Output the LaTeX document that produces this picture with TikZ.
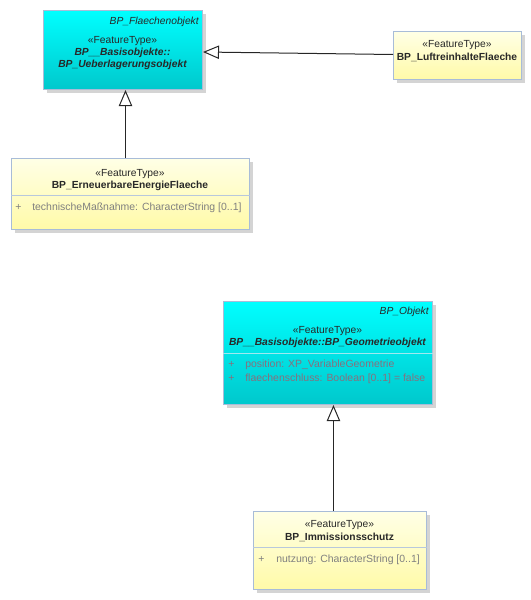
\documentclass[tikz,border=0pt]{standalone}
\usepackage{fontspec}
\setmainfont{Liberation Sans}
\usetikzlibrary{arrows.meta,shadows,calc}
\definecolor{bordc}{RGB}{168,188,216}
\definecolor{cyantop}{RGB}{0,255,255}
\definecolor{cyanbot}{RGB}{0,200,204}
\definecolor{yeltop}{RGB}{255,255,230}
\definecolor{yelbot}{RGB}{255,250,168}
\definecolor{cdiv}{RGB}{160,232,240}
\definecolor{ydiv}{RGB}{184,200,220}
\definecolor{txtc}{RGB}{40,40,40}
\definecolor{attc}{RGB}{128,128,128}
\definecolor{cattc}{RGB}{135,112,125}
\definecolor{shadc}{RGB}{212,212,212}
\tikzset{
  ubox/.style={draw=bordc, line width=0.75pt, inner sep=0pt, anchor=north west,
    drop shadow={shadow xshift=2.25pt, shadow yshift=-2.25pt, fill=shadc, opacity=1}},
  cbox/.style={ubox, top color=cyantop, bottom color=cyanbot},
  ybox/.style={ubox, top color=yeltop, bottom color=yelbot},
  txt/.style={inner sep=0pt, text=txtc, font=\fontsize{7.7pt}{9pt}\selectfont},
  stereo/.style={txt, anchor=base},
  cname/.style={txt, anchor=base, font=\fontsize{7.7pt}{9pt}\selectfont\bfseries},
  aname/.style={txt, anchor=base, font=\fontsize{7.7pt}{9pt}\selectfont\bfseries\itshape},
  parent/.style={txt, anchor=base east, font=\fontsize{7.7pt}{9pt}\selectfont\itshape},
  attr/.style={txt, anchor=base west, text=attc, font=\fontsize{7.85pt}{9pt}\selectfont},
  cattr/.style={attr, text=cattc},
  ydivline/.style={draw=ydiv, line width=0.75pt},
  cdivline/.style={draw=cdiv, line width=0.75pt},
  gen/.style={draw=black!85, line width=0.75pt,
    -{Triangle[open, length=12pt, width=10pt, fill=white]}}
}
\begin{document}
\begin{tikzpicture}[x=0.75pt, y=-0.75pt]
\useasboundingbox (0,0) rectangle (531,600);

% Box 1: BP_Ueberlagerungsobjekt
\node[cbox, minimum width=159*0.75pt, minimum height=79*0.75pt] (fo) at (43,10) {};
\node[parent] (foP) at (199,24) {BP\_Flaechenobjekt};
\node[stereo] (foS) at (122.5,43) {«FeatureType»};
\node[aname] (foN1) at (122.5,55) {BP\_\_Basisobjekte::};
\node[aname] (foN2) at (122.5,67) {BP\_Ueberlagerungsobjekt};

% Box 3: BP_LuftreinhalteFlaeche
\node[ybox, minimum width=128*0.75pt, minimum height=48*0.75pt] (lu) at (393,31) {};
\node[stereo] (luS) at (457,47) {«FeatureType»};
\node[cname] (luN) at (457,60) {BP\_LuftreinhalteFlaeche};

% Box 2: BP_ErneuerbareEnergieFlaeche
\node[ybox, minimum width=238*0.75pt, minimum height=71*0.75pt] (ee) at (11,158) {};
\node[stereo] (eeS) at (130,176) {«FeatureType»};
\node[cname] (eeN) at (130,188) {BP\_ErneuerbareEnergieFlaeche};
\draw[ydivline] (ee.west |- 0,195) -- (ee.east |- 0,195);
\node[attr] (eeP) at (15,210) {+};
\node[attr] (eeA) at (32,210) {technischeMaßnahme: CharacterString [0..1]};

% Box 4: BP_Geometrieobjekt
\node[cbox, minimum width=209*0.75pt, minimum height=103*0.75pt] (geo) at (223,301) {};
\node[parent] (geoP) at (429,314) {BP\_Objekt};
\node[stereo] (geoS) at (327.5,333) {«FeatureType»};
\node[aname] (geoN) at (327.5,345) {BP\_\_Basisobjekte::BP\_Geometrieobjekt};
\draw[cdivline] (geo.west |- 0,353) -- (geo.east |- 0,353);
\node[cattr] (geoP1) at (228,367) {+};
\node[cattr] (geoA1) at (245,367) {position: XP\_VariableGeometrie};
\node[cattr] (geoP2) at (228,381) {+};
\node[cattr] (geoA2) at (245,381) {flaechenschluss: Boolean [0..1] = false};

% Box 5: BP_Immissionsschutz
\node[ybox, minimum width=173*0.75pt, minimum height=78*0.75pt] (im) at (253,511) {};
\node[stereo] (imS) at (339.5,527) {«FeatureType»};
\node[cname] (imN) at (339.5,540) {BP\_Immissionsschutz};
\draw[ydivline] (im.west |- 0,547) -- (im.east |- 0,547);
\node[attr] (imP) at (258,562) {+};
\node[attr] (imA) at (276,562) {nutzung: CharacterString [0..1]};

% Generalizations
\draw[gen] ([xshift=-3.75pt]ee.north) -- ([xshift=-3.75pt]ee.north |- fo.south);
\draw[gen] ([yshift=0.75pt]lu.west) -- ([yshift=-1.5pt]fo.east);
\draw[gen] ([xshift=-4.9pt]im.north) -- ([xshift=-4.9pt]im.north |- geo.south);
\end{tikzpicture}
\end{document}
